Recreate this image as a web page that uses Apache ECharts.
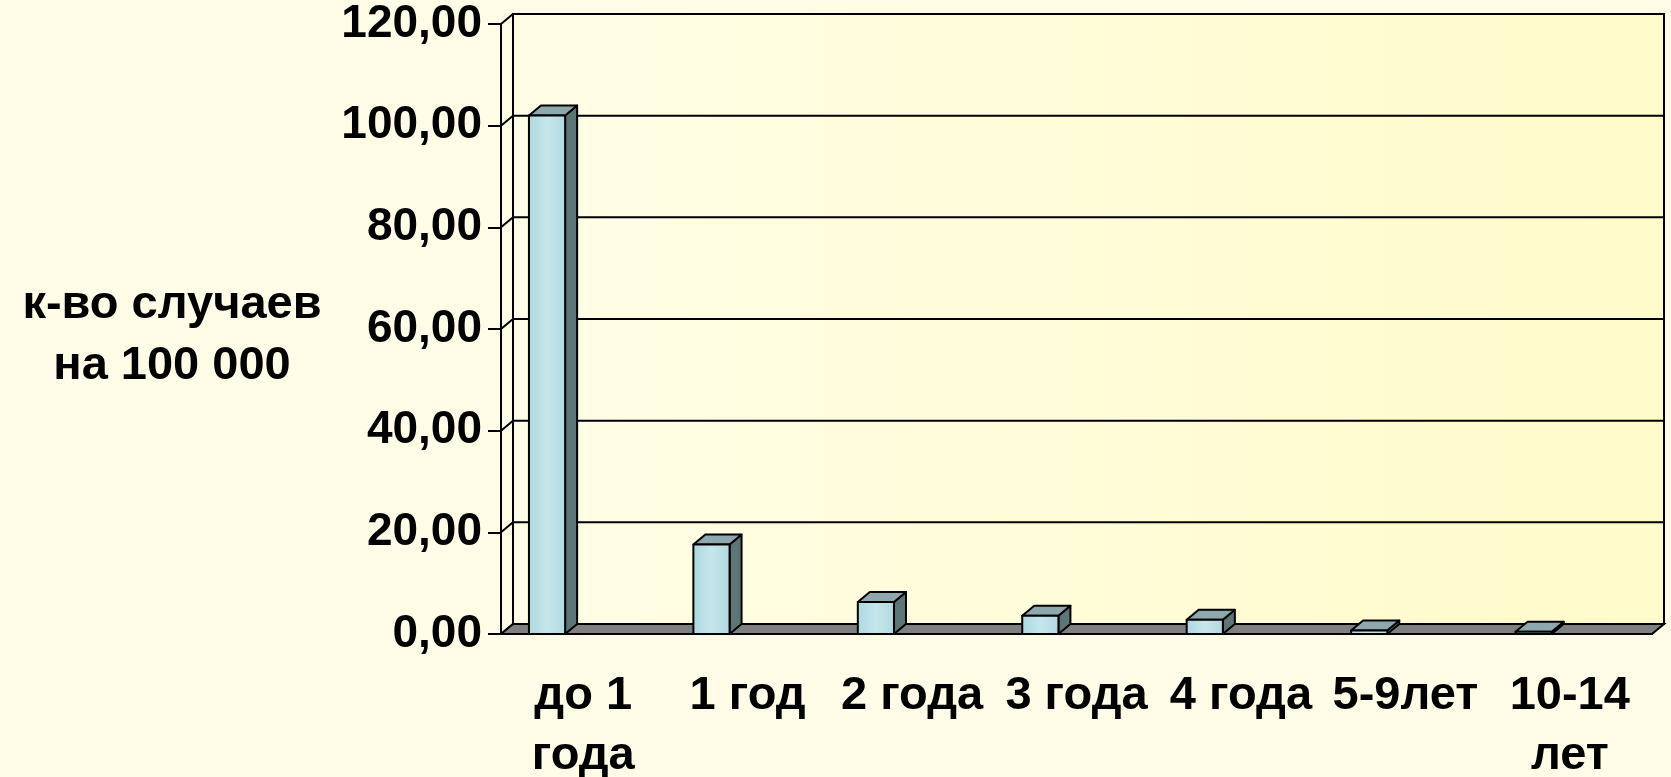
<!DOCTYPE html>
<html>
<head>
<meta charset="utf-8">
<title>к-во случаев на 100 000</title>
<script src="https://cdn.jsdelivr.net/npm/echarts@6/dist/echarts.min.js"></script>
<style>
  html, body { margin: 0; padding: 0; background: #fefce7; }
  #chart { width: 1671px; height: 777px; }
</style>
</head>
<body>
<div id="chart"></div>
<script>
// данные
var categories = ['до 1 года', '1 год', '2 года', '3 года', '4 года', '5-9лет', '10-14 лет'];
var xLabels = ['до 1\nгода', '1 год', '2 года', '3 года', '4 года', '5-9лет', '10-14\nлет'];
var values = [102, 17.6, 6.3, 3.6, 2.8, 0.7, 0.45];
var yTicks = [0, 20, 40, 60, 80, 100, 120];

// смещение "глубины" для псевдо-3D
var DX = 12, DY = -10;
var FONT = "'Liberation Sans', Arial, sans-serif";

var chart = echarts.init(document.getElementById('chart'));

// задняя стенка, линии сетки, пол
function renderScene(params, api) {
  var cs = params.coordSys;
  var children = [];
  children.push({
    type: 'rect',
    shape: { x: cs.x + DX, y: cs.y + DY, width: cs.width, height: cs.height },
    style: {
      fill: new echarts.graphic.LinearGradient(0, 0, 1, 0, [
        { offset: 0, color: '#fffde6' },
        { offset: 1, color: '#fffbca' }
      ]),
      stroke: '#000', lineWidth: 2
    }
  });
  yTicks.forEach(function (v) {
    var y = api.coord([0, v])[1];
    children.push({
      type: 'polyline',
      shape: { points: [[cs.x, y], [cs.x + DX, y + DY], [cs.x + cs.width + DX, y + DY]] },
      style: { fill: null, stroke: '#000', lineWidth: 2 }
    });
  });
  var yb = cs.y + cs.height;
  children.push({
    type: 'polygon',
    shape: { points: [[cs.x, yb], [cs.x + cs.width, yb], [cs.x + cs.width + DX, yb + DY], [cs.x + DX, yb + DY]] },
    style: { fill: '#808080', stroke: '#000', lineWidth: 2 }
  });
  return { type: 'group', children: children };
}

// столбик: передняя грань, боковая, верхняя
function renderBar(params, api) {
  var base = api.coord([api.value(0), 0]);
  var top = api.coord([api.value(0), api.value(1)]);
  var band = api.size([1, 0])[0];
  var x0 = base[0] - band / 2 + band * 0.17;
  var w = band * 0.22;
  var x1 = x0 + w;
  var yb = base[1], yt = top[1];
  var line = { stroke: '#000', lineWidth: 2, lineJoin: 'round' };
  return {
    type: 'group',
    children: [
      {
        type: 'polygon',
        shape: { points: [[x1, yt], [x1 + DX, yt + DY], [x1 + DX, yb + DY], [x1, yb]] },
        style: Object.assign({ fill: '#5e7577' }, line)
      },
      {
        type: 'polygon',
        shape: { points: [[x0, yt], [x0 + DX, yt + DY], [x1 + DX, yt + DY], [x1, yt]] },
        style: Object.assign({ fill: '#8ea8ad' }, line)
      },
      {
        type: 'rect',
        shape: { x: x0, y: yt, width: w, height: yb - yt },
        style: Object.assign({
          fill: new echarts.graphic.LinearGradient(0, 0, 1, 0, [
            { offset: 0, color: '#acd7df' },
            { offset: 0.5, color: '#c6e6eb' },
            { offset: 1, color: '#b0d9e1' }
          ])
        }, line)
      }
    ]
  };
}

var option = {
  animation: false,
  backgroundColor: '#fefce7',
  title: {
    text: 'к-во случаев\nна 100 000',
    left: 167,
    top: 270,
    textAlign: 'center',
    textStyle: { fontFamily: FONT, fontSize: 47, fontWeight: 'bold', color: '#000', lineHeight: 61 }
  },
  grid: { left: 501, right: 19, top: 24, bottom: 143, containLabel: false, outerBoundsMode: 'none' },
  xAxis: {
    type: 'category',
    data: categories,
    axisLine: { lineStyle: { color: '#000', width: 2 } },
    axisTick: { length: 13, lineStyle: { color: '#000', width: 2 } },
    axisLabel: {
      interval: 0,
      margin: 32,
      fontFamily: FONT,
      fontSize: 47,
      fontWeight: 'bold',
      color: '#000',
      lineHeight: 60,
      formatter: function (v, i) { return xLabels[i]; }
    },
    splitLine: { show: false }
  },
  yAxis: {
    type: 'value',
    min: 0,
    max: 120,
    interval: 20,
    axisLine: { show: true, lineStyle: { color: '#000', width: 2 } },
    axisTick: { show: true, length: 13, lineStyle: { color: '#000', width: 2 } },
    axisLabel: {
      margin: 19,
      fontFamily: FONT,
      fontSize: 46,
      fontWeight: 'bold',
      color: '#000',
      formatter: function (v) { return v.toFixed(2).replace('.', ','); }
    },
    splitLine: { show: false }
  },
  series: [
    {
      name: 'scene',
      type: 'custom',
      z: 1,
      silent: true,
      renderItem: renderScene,
      data: [[0, 0]]
    },
    {
      name: 'к-во случаев',
      type: 'custom',
      z: 3,
      renderItem: renderBar,
      data: values.map(function (v, i) { return [i, v]; })
    }
  ]
};

chart.setOption(option);
</script>
</body>
</html>
